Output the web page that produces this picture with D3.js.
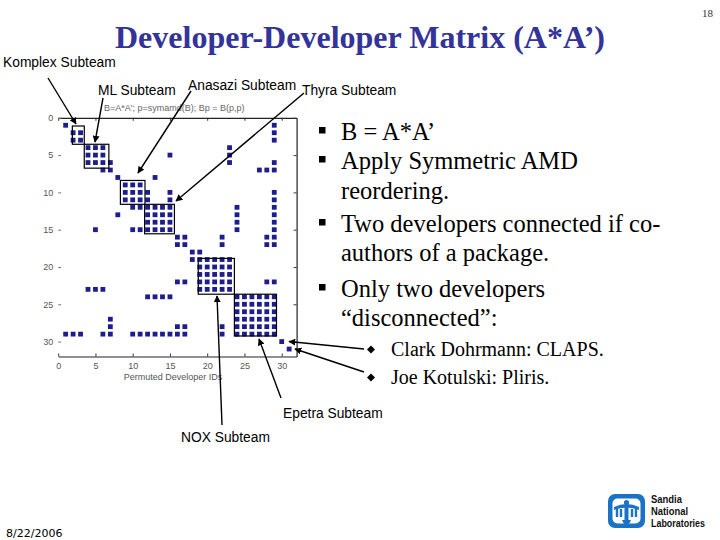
<!DOCTYPE html>
<html>
<head>
<meta charset="utf-8">
<script src="https://cdn.jsdelivr.net/npm/d3@7"></script>
<style>
  html, body { margin: 0; padding: 0; background: #fff; }
  svg { display: block; }
</style>
</head>
<body>
<svg id="slide" width="720" height="540"></svg>
<script>
// ---------------- DATA ----------------
// Permuted developer IDs (rows of Bp)
const developerIds = [1,2,3,4,5,6,7,8,9,10,11,12,13,14,15,16,17,18,19,20,21,22,23,24,25,26,27,28,29,30,31];
// Nonzero column IDs of each row of Bp = B(p,p)
const rowNonzeros = [
  [1,29],
  [2,3,29],
  [2,3,29],
  [4,5,6,23],
  [4,5,6,15,23],
  [4,5,6,7,23,29],
  [6,7,27,28,29],
  [8,13],
  [9,10,11],
  [9,10,11,12,15,29],
  [9,10,11,12,15,29],
  [10,11,12,13,14,15,24,29],
  [8,12,13,14,15,24,29],
  [12,13,14,15,24,29],
  [5,10,11,12,13,14,15,24,29],
  [16,17,22,28,29],
  [16,17,22,28,29],
  [18,19],
  [18,19,20,21,22,23],
  [19,20,21,22,23],
  [19,20,21,22,23],
  [16,17,19,20,21,22,23,28,29],
  [4,5,6,19,20,21,22,23],
  [12,13,14,15,24,25,26,27,28,29],
  [24,25,26,27,28,29],
  [24,25,26,27,28,29],
  [7,24,25,26,27,28,29],
  [7,16,17,22,24,25,26,27,28,29],
  [1,2,3,6,7,10,11,12,13,14,15,16,17,22,24,25,26,27,28,29],
  [30],
  [31]
];
const axisTicks = [0,5,10,15,20,25,30];
// Subteam blocks (developer ID ranges, as boxed on the slide)
const subteamNames = ["Komplex","ML","Anasazi","Thyra","NOX","Epetra"];
const subteamCols  = [[1.9,3.5],[3.5,6.8],[8.35,11.65],[11.6,15.6],[18.8,23.65],[23.65,29.3]];
const subteamRows  = [[1.1,3.55],[3.55,6.75],[8.4,11.6],[11.6,15.55],[18.85,23.65],[23.65,29.25]];
const bullets = [
  ["B = A*A’"],
  ["Apply Symmetric AMD", "reordering."],
  ["Two developers connected if co-", "authors of a package."],
  ["Only two developers", "“disconnected”:"]
];
const subBullets = ["Clark Dohrmann: CLAPS.", "Joe Kotulski: Pliris."];

// ---------------- DRAW ----------------
const svg = d3.select("#slide");
const defs = svg.append("defs");
defs.append("marker").attr("id","ah").attr("viewBox","0 0 10 10")
  .attr("refX",9).attr("refY",5).attr("markerWidth",7).attr("markerHeight",7)
  .attr("markerUnits","userSpaceOnUse").attr("orient","auto")
  .append("path").attr("d","M0,0 L10,5 L0,10 z").attr("fill","#000");

// Slide title
svg.append("text").attr("x",360).attr("y",48).attr("text-anchor","middle")
  .attr("font-family","'Liberation Serif','Times New Roman',serif").attr("font-weight","bold")
  .attr("font-size",31).attr("fill","#333399")
  .attr("textLength",490).attr("lengthAdjust","spacingAndGlyphs")
  .text("Developer-Developer Matrix (A*A’)");
svg.append("text").attr("x",713).attr("y",17).attr("text-anchor","end")
  .attr("font-family","'Liberation Serif',serif").attr("font-size",11).attr("fill","#333")
  .text("18");

// Spy plot
const x = d3.scaleLinear().domain([0,32]).range([58.2,296.6]);
const y = d3.scaleLinear().domain([0,32]).range([117.8,356.5]);
const plot = svg.append("g");

const cells = [];
rowNonzeros.forEach((cols,i) => cols.forEach(c => cells.push({r: developerIds[i], c})));
const ms = 4.8;
plot.selectAll("rect.nz").data(cells).enter().append("rect").attr("class","nz")
  .attr("x",d => x(d.c)-ms/2).attr("y",d => y(d.r)-ms/2)
  .attr("width",ms).attr("height",ms).attr("fill","#1d1d8c");

// axes
const axFont = "'Liberation Sans',Arial,sans-serif";
const gx = plot.append("g").attr("transform",`translate(0,${y(32)})`)
  .call(d3.axisBottom(x).tickValues(axisTicks).tickSizeInner(-3).tickSizeOuter(0).tickPadding(6));
const gxt = plot.append("g").attr("transform",`translate(0,${y(0)})`)
  .call(d3.axisTop(x).tickValues(axisTicks).tickSizeInner(-3).tickSizeOuter(0).tickFormat(""));
const gy = plot.append("g").attr("transform",`translate(${x(0)},0)`)
  .call(d3.axisLeft(y).tickValues(axisTicks).tickSizeInner(-3).tickSizeOuter(0).tickPadding(5));
const gyr = plot.append("g").attr("transform",`translate(${x(32)},0)`)
  .call(d3.axisRight(y).tickValues(axisTicks).tickSizeInner(-3).tickSizeOuter(0).tickFormat(""));
[gx,gxt,gy,gyr].forEach(g => {
  g.selectAll("text").attr("font-family",axFont).attr("font-size",9).attr("fill","#555");
  g.selectAll("line").attr("stroke","#333");
  g.select(".domain").attr("stroke","#222").attr("stroke-width",1.2);
});
gy.select(".domain").attr("stroke","none");
gy.selectAll(".tick line").attr("stroke","#777");

plot.append("text").attr("x",173).attr("y",380).attr("text-anchor","middle")
  .attr("font-family",axFont).attr("font-size",9).attr("fill","#555")
  .text("Permuted Developer IDs");
plot.append("text").attr("x",104).attr("y",111)
  .attr("font-family",axFont).attr("font-size",9).attr("fill","#666")
  .text("B=A*A'; p=symamd(B); Bp = B(p,p)");

// subteam boxes
subteamNames.forEach((n,i) => {
  plot.append("rect")
    .attr("x",x(subteamCols[i][0])).attr("y",y(subteamRows[i][0]))
    .attr("width",x(subteamCols[i][1])-x(subteamCols[i][0]))
    .attr("height",y(subteamRows[i][1])-y(subteamRows[i][0]))
    .attr("fill","none").attr("stroke","#000").attr("stroke-width",1.2);
});

// annotation labels
const lblFont = "'Liberation Sans',Arial,sans-serif";
const labels = [
  ["Komplex Subteam",3,67],["ML Subteam",98,95],["Anasazi Subteam",188,90],
  ["Thyra Subteam",302,95],["Epetra Subteam",283,418],["NOX Subteam",181,442]
];
labels.forEach(l => svg.append("text").attr("x",l[1]).attr("y",l[2])
  .attr("font-family",lblFont).attr("font-size",13.8).attr("fill","#000").text(l[0]));

// arrows
const arrows = [
  [48,78,76,124],[103,98,95,142],[191,91,138,173],[304,93,176,201],
  [222,425,217,296],[281,398,259,339],[364,349,289,341.5],[364,372,295,349]
];
arrows.forEach(a => svg.append("line").attr("x1",a[0]).attr("y1",a[1]).attr("x2",a[2]).attr("y2",a[3])
  .attr("stroke","#000").attr("stroke-width",1.4).attr("marker-end","url(#ah)"));

// bullets
const serif = "'Liberation Serif','Times New Roman',serif";
const bulletY = [[140],[169,199],[232,261],[297,326]];
bullets.forEach((lines,i) => {
  svg.append("rect").attr("x",319).attr("y",bulletY[i][0]-13).attr("width",6.5).attr("height",6.5).attr("fill","#000");
  lines.forEach((t,j) => svg.append("text").attr("x",341).attr("y",bulletY[i][j])
    .attr("font-family",serif).attr("font-size",24.5).attr("fill","#000").text(t));
});
const subY = [356,384];
subBullets.forEach((t,i) => {
  const cy = subY[i]-6.5;
  svg.append("path").attr("d",`M371,${cy-4} L375,${cy} L371,${cy+4} L367,${cy} Z`).attr("fill","#000");
  svg.append("text").attr("x",391).attr("y",subY[i]).attr("font-family",serif)
    .attr("font-size",20).attr("fill","#000").text(t);
});

// date
svg.append("text").attr("x",6).attr("y",537).attr("font-family","'DejaVu Sans',sans-serif")
  .attr("font-size",11).attr("fill","#000").text("8/22/2006");

// Sandia logo
const lg = svg.append("g");
const blue = "#1a73c4";
lg.append("rect").attr("x",608).attr("y",494).attr("width",37).attr("height",34).attr("rx",7).attr("fill",blue);
lg.append("rect").attr("x",612.5).attr("y",498.5).attr("width",28).attr("height",25).attr("rx",5).attr("fill","#fff");
lg.append("circle").attr("cx",626.5).attr("cy",502.5).attr("r",2.6).attr("fill",blue);
lg.append("path").attr("d","M614,507 Q626.5,501 639,507 L639,510 Q626.5,505 614,510 Z").attr("fill",blue);
[617,621,632,636].forEach(px => lg.append("rect").attr("x",px-1.2).attr("y",509).attr("width",2.4).attr("height",8).attr("fill",blue));
lg.append("rect").attr("x",624.5).attr("y",505).attr("width",4).attr("height",16).attr("fill",blue);
lg.append("path").attr("d","M622,520 L631,520 L629,524 L624,524 Z").attr("fill",blue);
const logoWords = ["Sandia","National","Laboratories"];
const logoLens = [31,37,54];
logoWords.forEach((t,i) => lg.append("text")
  .attr("x",651).attr("y",503+i*12).attr("font-family","'Liberation Sans',Arial,sans-serif")
  .attr("font-weight","bold").attr("font-size",10.5).attr("fill","#111")
  .attr("textLength",logoLens[i]).attr("lengthAdjust","spacingAndGlyphs").text(t));
</script>
</body>
</html>
